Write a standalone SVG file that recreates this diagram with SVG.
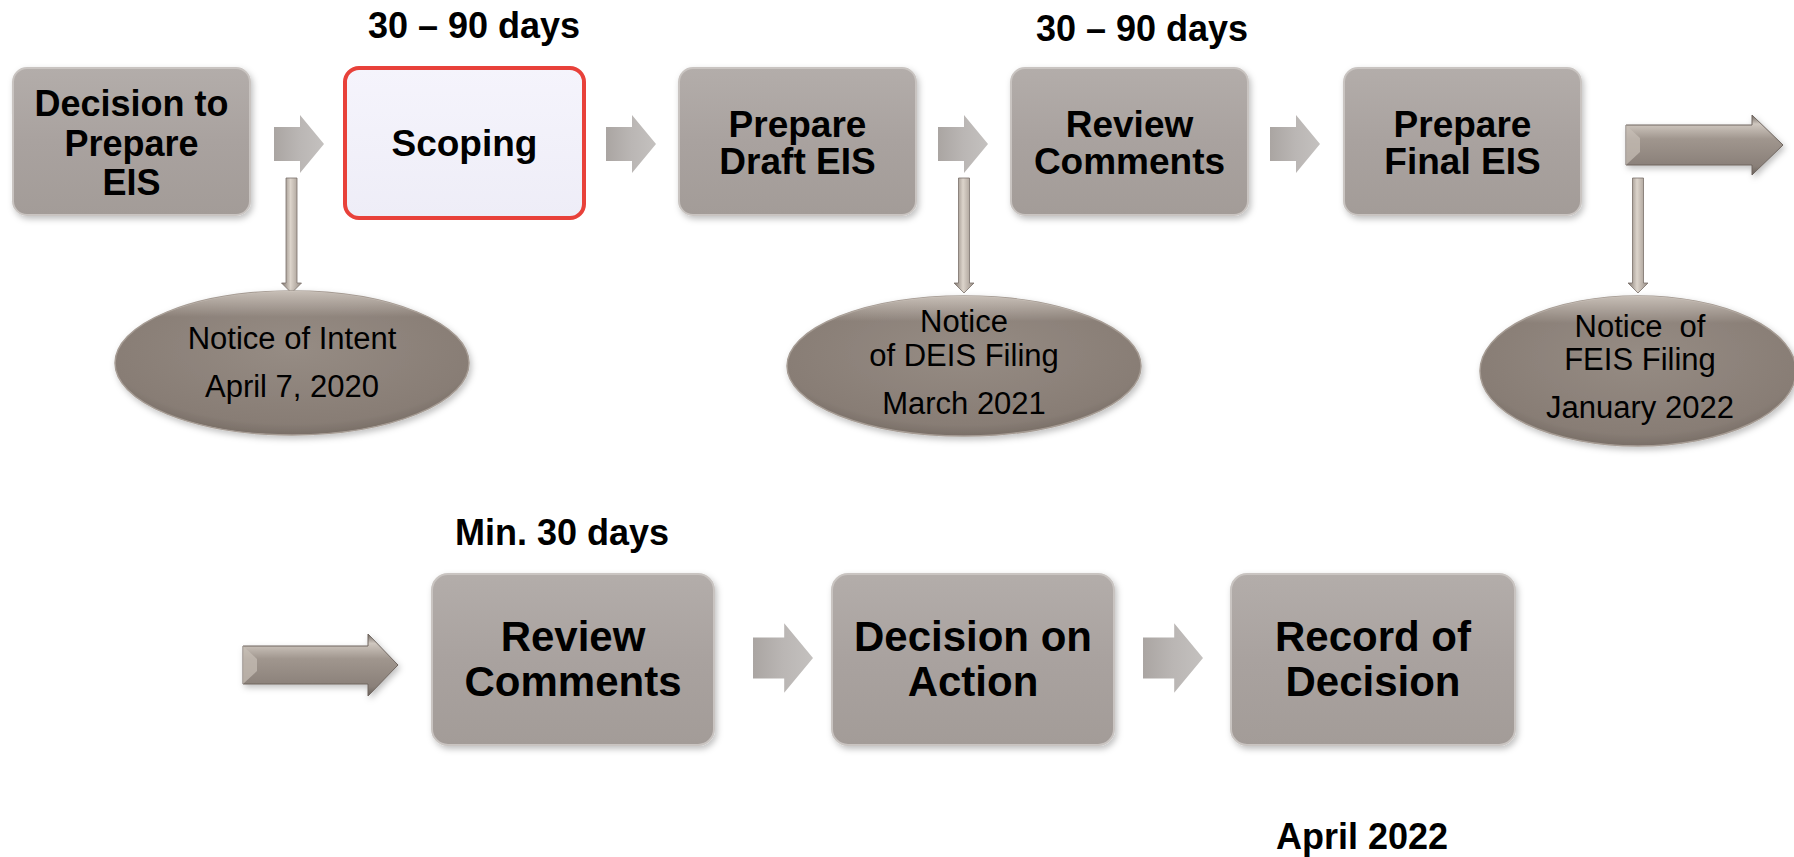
<svg xmlns="http://www.w3.org/2000/svg" width="1794" height="857" viewBox="0 0 1794 857">
<defs>
  <linearGradient id="boxGrad" x1="0" y1="0" x2="0" y2="1">
    <stop offset="0" stop-color="#b3adaa"/>
    <stop offset="0.5" stop-color="#a9a29f"/>
    <stop offset="1" stop-color="#a39c98"/>
  </linearGradient>
  <linearGradient id="scopeGrad" x1="0" y1="0" x2="0" y2="1">
    <stop offset="0" stop-color="#f5f4fc"/>
    <stop offset="1" stop-color="#eeedf7"/>
  </linearGradient>
  <radialGradient id="ellGrad" cx="0.5" cy="0.4" r="0.65">
    <stop offset="0" stop-color="#968c84"/>
    <stop offset="0.8" stop-color="#887d75"/>
    <stop offset="1" stop-color="#70665f"/>
  </radialGradient>
  <linearGradient id="ellTop" x1="0" y1="0" x2="0" y2="1">
    <stop offset="0" stop-color="#d6cec6" stop-opacity="0.8"/>
    <stop offset="0.18" stop-color="#d6cec6" stop-opacity="0"/>
    <stop offset="1" stop-color="#d6cec6" stop-opacity="0"/>
  </linearGradient>
  <linearGradient id="smallArrowGrad" x1="0" y1="0" x2="1" y2="0">
    <stop offset="0" stop-color="#aaa5a2"/>
    <stop offset="0.5" stop-color="#bab6b4"/>
    <stop offset="1" stop-color="#c4c1bf"/>
  </linearGradient>
  <linearGradient id="longArrowGrad" x1="0" y1="0" x2="0" y2="1">
    <stop offset="0" stop-color="#6f665f"/>
    <stop offset="0.15" stop-color="#cfc7bf"/>
    <stop offset="0.4" stop-color="#a0968e"/>
    <stop offset="0.85" stop-color="#8a8079"/>
    <stop offset="1" stop-color="#6a615b"/>
  </linearGradient>
  <linearGradient id="vArrowGrad" x1="0" y1="0" x2="1" y2="0">
    <stop offset="0" stop-color="#7d736c"/>
    <stop offset="0.45" stop-color="#dcd4cb"/>
    <stop offset="1" stop-color="#978d85"/>
  </linearGradient>
  <filter id="shadow" x="-10%" y="-10%" width="125%" height="130%">
    <feDropShadow dx="2" dy="3" stdDeviation="3" flood-color="#000" flood-opacity="0.25"/>
  </filter>
  <path id="smallArrow" d="M0,-17 H26 V-29 L50,0 L26,29 V17 H0 Z"/>
  <path id="vArrow" d="M-5.5,0 H5.5 V105 H10 L0,115 L-10,105 H-5.5 Z"/>
</defs>
<style>
  .box { fill: url(#boxGrad); stroke: #c9c4c1; stroke-width: 2; filter: url(#shadow); }
  .scope { fill: url(#scopeGrad); stroke: #e8413a; stroke-width: 4; }
  .ell { fill: url(#ellGrad); stroke: #a69c94; stroke-width: 1.5; filter: url(#shadow); }
  .ellhi { fill: url(#ellTop); }
  .sa { fill: url(#smallArrowGrad); }
  .la { fill: url(#longArrowGrad); stroke: #6e655f; stroke-width: 1; filter: url(#shadow); }
  .bevel { fill: #c8bfb7; opacity: 0.7; }
  .va { fill: url(#vArrowGrad); stroke: #7a7069; stroke-width: 0.8; }
  .t1 { font-family: "Liberation Sans", Arial, sans-serif; font-weight: bold; font-size: 37px; fill: #000; text-anchor: middle; }
  .t1s { font-family: "Liberation Sans", Arial, sans-serif; font-weight: bold; font-size: 36px; fill: #000; text-anchor: middle; }
  .t2 { font-family: "Liberation Sans", Arial, sans-serif; font-weight: bold; font-size: 42px; fill: #000; text-anchor: middle; }
  .hd { font-family: "Liberation Sans", Arial, sans-serif; font-weight: bold; font-size: 36px; fill: #000; text-anchor: middle; }
  .et { font-family: "Liberation Sans", Arial, sans-serif; font-size: 31px; fill: #000; text-anchor: middle; }
</style>

<g id="labels">
  <text class="hd" x="474" y="38">30 – 90 days</text>
  <text class="hd" x="1142" y="41">30 – 90 days</text>
  <text class="hd" x="562" y="545">Min. 30 days</text>
  <text class="hd" x="1362" y="849">April 2022</text>
</g>

<g id="connectors">
  <use href="#smallArrow" class="sa" transform="translate(274,144)"/>
  <use href="#smallArrow" class="sa" transform="translate(606,144)"/>
  <use href="#smallArrow" class="sa" transform="translate(938,144)"/>
  <use href="#smallArrow" class="sa" transform="translate(1270,144)"/>
  <path class="la" d="M1626,125 H1752 V115 L1783,145 L1752,175 V165 H1626 Z"/>
  <path class="bevel" d="M1626,125 L1640,138 L1640,152 L1626,165 Z"/>
  <use href="#vArrow" class="va" transform="translate(291.5,178)"/>
  <use href="#vArrow" class="va" transform="translate(964,178)"/>
  <use href="#vArrow" class="va" transform="translate(1638,178)"/>
  <path class="la" d="M243,646 H368 V634 L398,665 L368,696 V684 H243 Z"/>
  <path class="bevel" d="M243,646 L257,659 L257,671 L243,684 Z"/>
  <use href="#smallArrow" class="sa" transform="translate(753,658) scale(1.2)"/>
  <use href="#smallArrow" class="sa" transform="translate(1143,658) scale(1.2)"/>
</g>

<g id="decision-prepare">
  <rect class="box" x="13" y="68" width="237" height="147" rx="14"/>
  <text class="t1s" x="131.5" y="116">Decision to<tspan x="131.5" dy="40">Prepare</tspan><tspan x="131.5" dy="39">EIS</tspan></text>
</g>

<g id="scoping">
  <rect class="scope" x="345" y="68" width="239" height="150" rx="14"/>
  <text class="t1" x="464.5" y="156">Scoping</text>
</g>

<g id="draft-eis">
  <rect class="box" x="679" y="68" width="237" height="147" rx="14"/>
  <text class="t1" x="797.5" y="137">Prepare<tspan x="797.5" dy="37">Draft EIS</tspan></text>
</g>

<g id="review-comments-1">
  <rect class="box" x="1011" y="68" width="237" height="147" rx="14"/>
  <text class="t1" x="1129.5" y="137">Review<tspan x="1129.5" dy="37">Comments</tspan></text>
</g>

<g id="final-eis">
  <rect class="box" x="1344" y="68" width="237" height="147" rx="14"/>
  <text class="t1" x="1462.5" y="137">Prepare<tspan x="1462.5" dy="37">Final EIS</tspan></text>
</g>

<g id="notice-intent">
  <ellipse class="ell" cx="292" cy="363" rx="177" ry="72"/>
  <ellipse class="ellhi" cx="292" cy="363" rx="177" ry="72"/>
  <text class="et" x="292" y="349">Notice of Intent<tspan x="292" dy="48">April 7, 2020</tspan></text>
</g>

<g id="notice-deis">
  <ellipse class="ell" cx="964" cy="366" rx="177" ry="70"/>
  <ellipse class="ellhi" cx="964" cy="366" rx="177" ry="70"/>
  <text class="et" x="964" y="332">Notice<tspan x="964" dy="34">of DEIS Filing</tspan><tspan x="964" dy="48">March 2021</tspan></text>
</g>

<g id="notice-feis">
  <ellipse class="ell" cx="1638" cy="371" rx="158" ry="75"/>
  <ellipse class="ellhi" cx="1638" cy="371" rx="158" ry="75"/>
  <text class="et" x="1640" y="337" xml:space="preserve">Notice  of<tspan x="1640" dy="33">FEIS Filing</tspan><tspan x="1640" dy="48">January 2022</tspan></text>
</g>

<g id="review-comments-2">
  <rect class="box" x="432" y="574" width="282" height="171" rx="16"/>
  <text class="t2" x="573" y="651">Review<tspan x="573" dy="45">Comments</tspan></text>
</g>

<g id="decision-action">
  <rect class="box" x="832" y="574" width="282" height="171" rx="16"/>
  <text class="t2" x="973" y="651">Decision on<tspan x="973" dy="45">Action</tspan></text>
</g>

<g id="record-decision">
  <rect class="box" x="1231" y="574" width="284" height="171" rx="16"/>
  <text class="t2" x="1373" y="651">Record of<tspan x="1373" dy="45">Decision</tspan></text>
</g>
</svg>
